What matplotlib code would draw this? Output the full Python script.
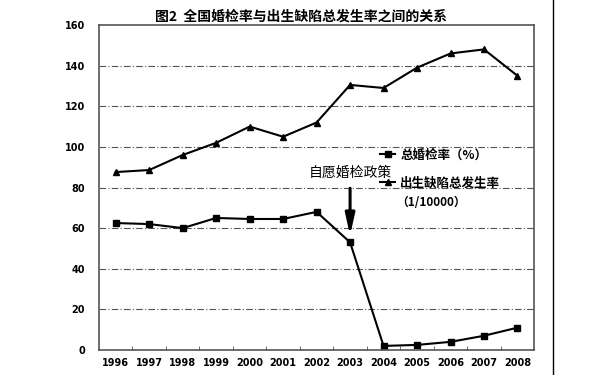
import matplotlib.pyplot as plt
from matplotlib.lines import Line2D

plt.rcParams['font.family'] = ['Noto Sans CJK SC', 'DejaVu Sans']

years = ['1996', '1997', '1998', '1999', '2000', '2001', '2002',
         '2003', '2004', '2005', '2006', '2007', '2008']
check_rate = [62.5, 62, 60, 65, 64.5, 64.5, 68, 53, 2, 2.5, 4, 7, 11]
defect_rate = [87.6, 88.6, 96, 102, 110, 105, 112, 130.5, 129, 139, 146, 148, 135]
y_ticks = [0, 20, 40, 60, 80, 100, 120, 140, 160]

fig = plt.figure(figsize=(6.05, 3.75), dpi=100)
ax = fig.add_axes([0.1636, 0.0667, 0.7194, 0.8666])

x = list(range(len(years)))
ax.plot(x, check_rate, '-', color='black', lw=1.5, marker='s', ms=5,
        label='总婚检率（%）')
ax.plot(x, defect_rate, '-', color='black', lw=1.5, marker='^', ms=5,
        label='出生缺陷总发生率')

ax.set_xlim(-0.5, len(years) - 0.5)
ax.set_ylim(0, 160)
ax.set_yticks(y_ticks)
ax.set_xticks(x)
ax.set_xticklabels(years)
ax.set_xticks([i + 0.5 for i in x[:-1]], minor=True)
ax.tick_params(axis='x', which='major', length=0, pad=6)
ax.tick_params(axis='x', which='minor', length=3, direction='in', color='#555555')
ax.tick_params(axis='y', length=0, pad=10)
for lab in ax.get_xticklabels() + ax.get_yticklabels():
    lab.set_fontsize(7)
    lab.set_fontweight('bold')
    lab.set_family('DejaVu Sans')

for v in y_ticks[1:-1]:
    ax.axhline(v, color='#555555', lw=0.8, ls=(0, (6, 2, 1, 2)), zorder=0)
for s in ax.spines.values():
    s.set_color('#555555')
    s.set_linewidth(1.2)

ax.legend(loc='upper left', bbox_to_anchor=(0.635, 0.635), frameon=False,
          handlelength=1.2, handletextpad=0.4, labelspacing=1.2,
          borderaxespad=0, prop={'weight': 'bold', 'size': 9})
ax.text(0.683, 0.455, '（1/10000）', transform=ax.transAxes, ha='left',
        va='center', fontsize=8.5, fontweight='bold')

ax.annotate('', xy=(7, 55), xytext=(7, 81),
            arrowprops=dict(arrowstyle='-|>,head_length=0.9,head_width=0.2',
                            color='black', lw=2.2, mutation_scale=14))
ax.text(7, 84, '自愿婚检政策', ha='center', va='bottom', fontsize=10)

fig.text(0.497, 0.975, '图2  全国婚检率与出生缺陷总发生率之间的关系',
         ha='center', va='top', fontsize=10, fontweight='bold')
fig.add_artist(Line2D([0.914, 0.914], [0, 1], color='black', lw=1,
                      transform=fig.transFigure))

fig.savefig('out.png', dpi=100)
